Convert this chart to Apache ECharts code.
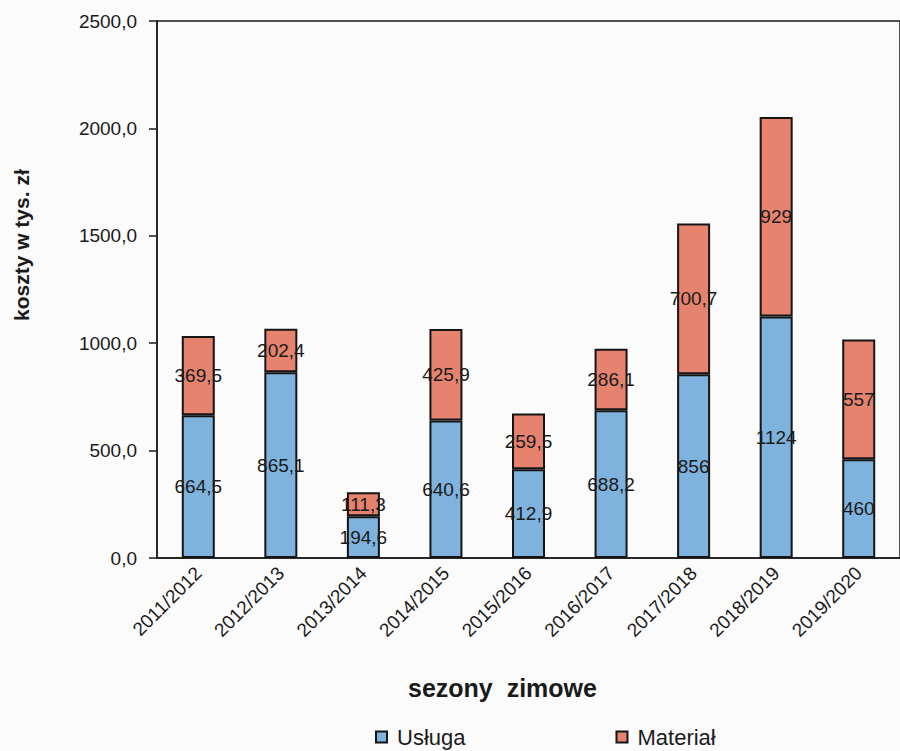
<!DOCTYPE html>
<html>
<head>
<meta charset="utf-8">
<script src="https://cdn.jsdelivr.net/npm/echarts@6/dist/echarts.min.js"></script>
<style>
html,body{margin:0;padding:0;background:#fbfbfb;}
#c{width:900px;height:751px;}
</style>
</head>
<body>
<div id="c"></div>
<script>
const categories = ['2011/2012','2012/2013','2013/2014','2014/2015','2015/2016','2016/2017','2017/2018','2018/2019','2019/2020'];
const usluga = [664.5, 865.1, 194.6, 640.6, 412.9, 688.2, 856, 1124, 460];
const material = [369.5, 202.4, 111.3, 425.9, 259.5, 286.1, 700.7, 929, 557];
const yTicks = [0, 500, 1000, 1500, 2000, 2500];

const FONT = '"Liberation Sans", Arial, sans-serif';
const chart = echarts.init(document.getElementById('c'), null, {renderer: 'svg'});
const fmt = v => String(v).replace('.', ',');
const labelCfg = {show: true, position: 'inside', color: '#1a1a1a', fontFamily: FONT, fontSize: 19, formatter: p => fmt(p.value)};

chart.setOption({
  backgroundColor: '#fbfbfb',
  animation: false,
  grid: {left: 157, top: 21, width: 756, height: 537, show: true, borderColor: '#1a1a1a', borderWidth: 1.5, backgroundColor: 'transparent'},
  legend: {
    left: 370, top: 720,
    itemWidth: 11, itemHeight: 11, itemGap: 150,
    icon: 'rect',
    textStyle: {fontFamily: FONT, fontSize: 22, lineHeight: 24, color: '#1a1a1a', padding: [0, 0, 0, 5]},
    data: ['Usługa', 'Materiał']
  },
  xAxis: {
    type: 'category',
    data: categories,
    axisLine: {lineStyle: {color: '#1a1a1a', width: 1.5}},
    axisTick: {length: 6, lineStyle: {color: '#1a1a1a', width: 1.5}},
    axisLabel: {rotate: 45, fontFamily: FONT, fontSize: 19, color: '#1a1a1a', margin: 12, interval: 0}
  },
  yAxis: {
    type: 'value',
    min: yTicks[0], max: yTicks[yTicks.length - 1], interval: 500,
    axisLine: {show: true, lineStyle: {color: '#1a1a1a', width: 1.5}},
    axisTick: {show: true, inside: false, length: 8, lineStyle: {color: '#1a1a1a', width: 1.5}},
    splitLine: {show: false},
    axisLabel: {fontFamily: FONT, fontSize: 19, color: '#1a1a1a', margin: 20, formatter: v => v.toFixed(1).replace('.', ',')}
  },
  graphic: [
    {type: 'text', x: 408, y: 688, style: {text: 'sezony  zimowe', font: 'bold 25px ' + FONT, fill: '#1a1a1a', textAlign: 'left', textVerticalAlign: 'middle'}},
    {type: 'text', x: 11, y: 321, rotation: Math.PI / 2, style: {text: 'koszty w tys. zł', font: 'bold 21px ' + FONT, fill: '#1a1a1a', textAlign: 'left', textVerticalAlign: 'top'}}
  ],
  series: [
    {name: 'Usługa', type: 'bar', stack: 'a', data: usluga, barWidth: 33,
     itemStyle: {color: '#7fb2dc', borderColor: '#151515', borderWidth: 2}, label: labelCfg},
    {name: 'Materiał', type: 'bar', stack: 'a', data: material, barWidth: 33,
     itemStyle: {color: '#e5836f', borderColor: '#151515', borderWidth: 2}, label: labelCfg}
  ]
});
</script>
</body>
</html>
